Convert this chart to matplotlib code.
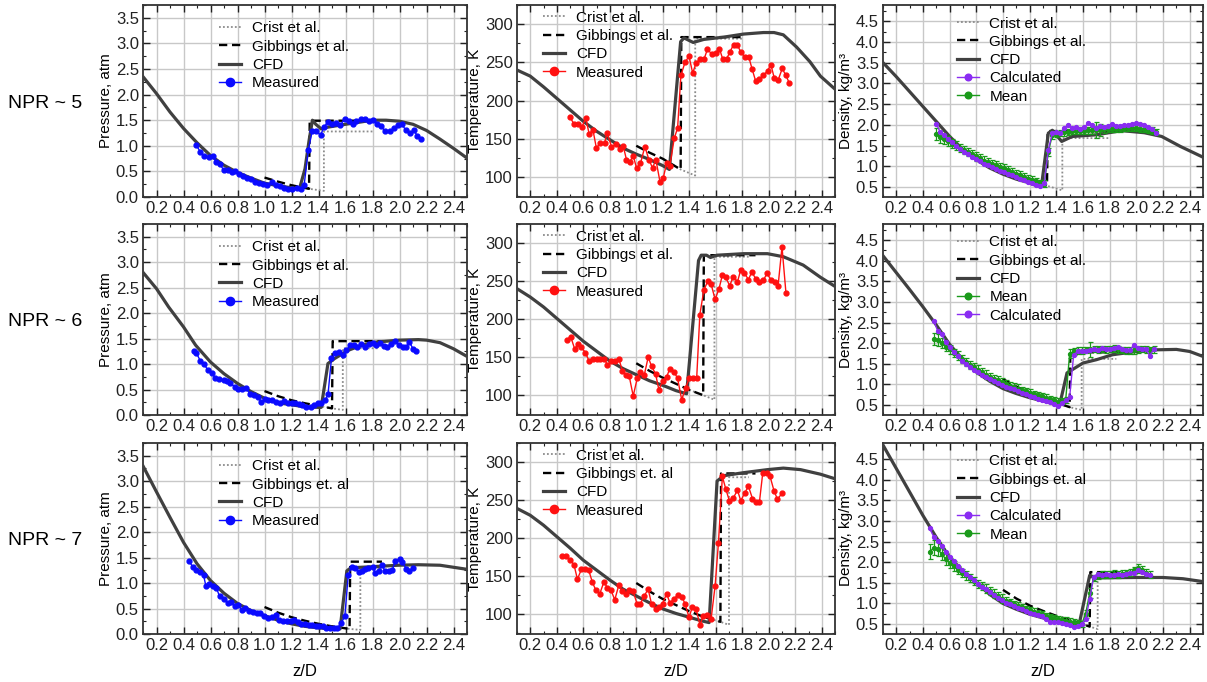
import matplotlib
matplotlib.use('Agg')
import matplotlib.pyplot as plt
from matplotlib.ticker import MultipleLocator
from matplotlib.lines import Line2D

plt.rcParams['font.family'] = ['Liberation Sans', 'DejaVu Sans']

# ---------------- ticks / labels ----------------
x_ticks = [0.2, 0.4, 0.6, 0.8, 1.0, 1.2, 1.4, 1.6, 1.8, 2.0, 2.2, 2.4]
x_tick_labels = ['0.2', '0.4', '0.6', '0.8', '1.0', '1.2', '1.4', '1.6', '1.8', '2.0', '2.2', '2.4']
p_ticks = [0.0, 0.5, 1.0, 1.5, 2.0, 2.5, 3.0, 3.5]
p_tick_labels = ['0.0', '0.5', '1.0', '1.5', '2.0', '2.5', '3.0', '3.5']
t_ticks = [100, 150, 200, 250, 300]
t_tick_labels = ['100', '150', '200', '250', '300']
d_ticks = [0.5, 1.0, 1.5, 2.0, 2.5, 3.0, 3.5, 4.0, 4.5]
d_tick_labels = ['0.5', '1.0', '1.5', '2.0', '2.5', '3.0', '3.5', '4.0', '4.5']
row_labels = ['NPR ~ 5', 'NPR ~ 6', 'NPR ~ 7']
x_label = 'z/D'
p_label = 'Pressure, atm'
t_label = 'Temperature, K'
d_label = 'Density, kg/m³'

# ================= NPR ~ 5 =================
p5_cfd_x = [0.1, 0.2, 0.3, 0.4, 0.5, 0.6, 0.7, 0.8, 0.9, 1.0, 1.1, 1.2, 1.26, 1.30, 1.33, 1.355, 1.38, 1.42, 1.46, 1.6, 1.7, 1.8, 1.9, 2.0, 2.1, 2.2, 2.3, 2.4, 2.5]
p5_cfd_y = [2.35, 2.02, 1.66, 1.34, 1.06, 0.81, 0.62, 0.48, 0.37, 0.27, 0.22, 0.18, 0.17, 0.55, 1.1, 1.5, 1.42, 1.33, 1.36, 1.42, 1.46, 1.5, 1.5, 1.48, 1.42, 1.3, 1.13, 0.95, 0.76]
p5_gib_x = [1.0, 1.1, 1.2, 1.33, 1.335, 1.8]
p5_gib_y = [0.38, 0.30, 0.23, 0.16, 1.49, 1.49]
p5_cri_x = [1.2, 1.33, 1.44, 1.44, 1.8]
p5_cri_y = [0.23, 0.16, 0.12, 1.28, 1.28]
p5_mea_x = [0.495, 0.525, 0.549, 0.586, 0.616, 0.643, 0.667, 0.697, 0.726, 0.758, 0.783, 0.812, 0.839, 0.869, 0.898, 0.930, 0.960, 0.992, 1.021, 1.053, 1.083, 1.115, 1.144, 1.176, 1.206, 1.238, 1.267, 1.294, 1.324, 1.353, 1.384, 1.415, 1.442, 1.471, 1.501, 1.533, 1.562, 1.594, 1.624, 1.656, 1.680, 1.712, 1.742, 1.771, 1.803, 1.836, 1.865, 1.894, 1.926, 1.956, 1.988, 2.018, 2.046, 2.075, 2.104, 2.132, 2.160]
p5_mea_y = [1.01, 0.88, 0.81, 0.78, 0.81, 0.68, 0.65, 0.53, 0.52, 0.49, 0.51, 0.44, 0.41, 0.38, 0.36, 0.29, 0.28, 0.26, 0.24, 0.29, 0.23, 0.21, 0.18, 0.15, 0.16, 0.18, 0.16, 0.24, 0.91, 1.28, 1.28, 1.21, 1.37, 1.47, 1.42, 1.45, 1.40, 1.53, 1.49, 1.42, 1.49, 1.52, 1.52, 1.49, 1.50, 1.43, 1.38, 1.28, 1.28, 1.34, 1.40, 1.43, 1.30, 1.25, 1.30, 1.20, 1.13]

t5_cfd_x = [0.1, 0.2, 0.3, 0.4, 0.5, 0.6, 0.7, 0.8, 0.9, 1.0, 1.1, 1.2, 1.25, 1.335, 1.36, 1.43, 1.51, 1.66, 1.81, 1.96, 2.04, 2.11, 2.21, 2.31, 2.39, 2.5]
t5_cfd_y = [240, 232, 218, 203, 188, 173, 160, 149, 138, 130, 123, 115, 110, 277, 282, 276, 280, 283, 287, 289, 289, 286, 270, 251, 232, 215]
t5_gib_x = [1.0, 1.1, 1.2, 1.335, 1.34, 1.8]
t5_gib_y = [141, 132, 124, 110, 283, 283]
t5_cri_x = [1.2, 1.335, 1.445, 1.445, 1.8]
t5_cri_y = [124, 110, 102, 281, 281]
t5_mea_x = [0.498, 0.528, 0.561, 0.591, 0.619, 0.644, 0.674, 0.699, 0.730, 0.762, 0.780, 0.813, 0.846, 0.876, 0.901, 0.926, 0.952, 0.977, 1.002, 1.032, 1.065, 1.095, 1.123, 1.148, 1.179, 1.204, 1.229, 1.254, 1.287, 1.312, 1.337, 1.368, 1.398, 1.426, 1.451, 1.481, 1.511, 1.537, 1.570, 1.600, 1.628, 1.653, 1.683, 1.708, 1.734, 1.764, 1.789, 1.822, 1.849, 1.875, 1.902, 1.930, 1.960, 1.991, 2.016, 2.041, 2.071, 2.102, 2.129, 2.155]
t5_mea_y = [179, 170, 170, 166, 177, 157, 161, 138, 145, 145, 158, 140, 143, 137, 141, 123, 120, 128, 112, 118, 140, 123, 112, 123, 94, 99, 118, 115, 151, 164, 233, 250, 258, 236, 249, 254, 254, 267, 261, 262, 268, 254, 255, 264, 273, 273, 263, 257, 257, 241, 225, 228, 233, 239, 247, 230, 227, 242, 233, 223]

d5_cfd_x = [0.1, 0.2, 0.3, 0.4, 0.5, 0.6, 0.7, 0.8, 0.9, 1.0, 1.1, 1.2, 1.26, 1.29, 1.34, 1.37, 1.44, 1.52, 1.7, 1.89, 2.06, 2.19, 2.33, 2.5]
d5_cfd_y = [3.5, 3.16, 2.8, 2.44, 2.08, 1.72, 1.4, 1.16, 0.96, 0.81, 0.69, 0.6, 0.52, 0.56, 1.8, 1.87, 1.6, 1.72, 1.76, 1.86, 1.81, 1.72, 1.48, 1.22]
d5_gib_x = [1.0, 1.1, 1.2, 1.33, 1.335, 1.8]
d5_gib_y = [0.96, 0.82, 0.70, 0.53, 1.85, 1.85]
d5_cri_x = [1.2, 1.33, 1.445, 1.445, 1.8]
d5_cri_y = [0.70, 0.53, 0.42, 1.68, 1.68]
d5_grid_x = [0.50, 0.53, 0.56, 0.59, 0.62, 0.65, 0.68, 0.71, 0.74, 0.77, 0.80, 0.83, 0.86, 0.89, 0.92, 0.95, 0.98, 1.01, 1.04, 1.07, 1.10, 1.13, 1.16, 1.19, 1.22, 1.25, 1.28, 1.31, 1.34, 1.37, 1.40, 1.43, 1.46, 1.49, 1.52, 1.55, 1.58, 1.61, 1.64, 1.67, 1.70, 1.73, 1.76, 1.79, 1.82, 1.85, 1.88, 1.91, 1.94, 1.97, 2.00, 2.03, 2.06, 2.09, 2.12, 2.15]
d5_calc_y = [2.02, 1.82, 1.75, 1.65, 1.58, 1.48, 1.42, 1.35, 1.30, 1.22, 1.17, 1.12, 1.06, 1.02, 0.98, 0.93, 0.89, 0.86, 0.82, 0.78, 0.74, 0.70, 0.66, 0.62, 0.60, 0.56, 0.52, 0.60, 1.40, 1.80, 1.82, 1.80, 1.93, 2.00, 1.92, 1.95, 1.90, 1.95, 2.04, 2.00, 1.93, 1.97, 1.95, 1.97, 2.03, 1.98, 1.98, 2.00, 2.00, 2.02, 2.04, 2.03, 2.00, 1.96, 1.90, 1.80]
d5_mean_y = [1.78, 1.70, 1.66, 1.60, 1.55, 1.50, 1.45, 1.40, 1.35, 1.30, 1.24, 1.20, 1.14, 1.10, 1.06, 1.02, 0.98, 0.95, 0.90, 0.86, 0.82, 0.78, 0.74, 0.70, 0.68, 0.64, 0.60, 0.58, 1.35, 1.75, 1.78, 1.80, 1.82, 1.83, 1.85, 1.85, 1.86, 1.86, 1.87, 1.87, 1.88, 1.88, 1.89, 1.90, 1.90, 1.91, 1.91, 1.92, 1.92, 1.92, 1.92, 1.91, 1.90, 1.88, 1.86, 1.83]
d5_mean_err = [0.15, 0.14, 0.12, 0.12, 0.10, 0.10, 0.10, 0.10, 0.10, 0.10, 0.10, 0.10, 0.10, 0.10, 0.10, 0.10, 0.10, 0.10, 0.10, 0.10, 0.10, 0.10, 0.10, 0.08, 0.08, 0.08, 0.08, 0.08, 0.10, 0.10, 0.08, 0.08, 0.08, 0.08, 0.08, 0.08, 0.08, 0.08, 0.08, 0.08, 0.20, 0.15, 0.08, 0.08, 0.08, 0.08, 0.08, 0.08, 0.08, 0.08, 0.08, 0.08, 0.08, 0.08, 0.08, 0.08]

# ================= NPR ~ 6 =================
p6_cfd_x = [0.1, 0.2, 0.29, 0.4, 0.49, 0.6, 0.7, 0.8, 0.9, 1.0, 1.1, 1.2, 1.3, 1.4, 1.42, 1.47, 1.52, 1.62, 1.72, 1.82, 2.0, 2.14, 2.2, 2.3, 2.4, 2.5]
p6_cfd_y = [2.8, 2.48, 2.12, 1.73, 1.37, 1.04, 0.81, 0.62, 0.46, 0.33, 0.24, 0.20, 0.16, 0.15, 0.15, 1.01, 1.11, 1.27, 1.37, 1.43, 1.47, 1.48, 1.47, 1.42, 1.30, 1.15]
p6_gib_x = [1.0, 1.1, 1.2, 1.3, 1.4, 1.5, 1.505, 1.88]
p6_gib_y = [0.47, 0.37, 0.29, 0.23, 0.18, 0.13, 1.45, 1.45]
p6_cri_x = [1.4, 1.5, 1.58, 1.58, 1.85]
p6_cri_y = [0.18, 0.13, 0.10, 1.31, 1.31]
p6_mea_x = [0.475, 0.495, 0.525, 0.549, 0.581, 0.611, 0.635, 0.665, 0.697, 0.721, 0.746, 0.783, 0.807, 0.832, 0.861, 0.893, 0.923, 0.950, 0.975, 1.004, 1.029, 1.058, 1.085, 1.115, 1.144, 1.171, 1.201, 1.225, 1.255, 1.279, 1.311, 1.341, 1.365, 1.397, 1.422, 1.451, 1.471, 1.496, 1.525, 1.550, 1.582, 1.606, 1.636, 1.661, 1.688, 1.717, 1.742, 1.771, 1.803, 1.828, 1.857, 1.884, 1.909, 1.938, 1.968, 1.995, 2.024, 2.049, 2.074, 2.100, 2.125]
p6_mea_y = [1.25, 1.22, 1.06, 1.01, 0.88, 0.83, 0.72, 0.70, 0.68, 0.66, 0.62, 0.55, 0.52, 0.51, 0.53, 0.42, 0.39, 0.36, 0.26, 0.31, 0.30, 0.29, 0.26, 0.23, 0.27, 0.24, 0.24, 0.24, 0.21, 0.20, 0.16, 0.16, 0.20, 0.24, 0.23, 0.29, 0.42, 1.11, 1.21, 1.24, 1.17, 1.27, 1.38, 1.38, 1.34, 1.40, 1.34, 1.39, 1.42, 1.37, 1.42, 1.36, 1.34, 1.40, 1.45, 1.38, 1.34, 1.34, 1.43, 1.30, 1.25]

t6_cfd_x = [0.1, 0.2, 0.3, 0.4, 0.5, 0.6, 0.7, 0.8, 0.9, 1.0, 1.1, 1.2, 1.3, 1.38, 1.47, 1.49, 1.53, 1.56, 1.61, 1.81, 1.99, 2.11, 2.26, 2.39, 2.5]
t6_cfd_y = [240, 229, 216, 201, 186, 171, 158, 145, 135, 127, 119, 113, 106, 102, 277, 284, 284, 281, 284, 286, 286, 282, 271, 255, 243]
t6_gib_x = [1.0, 1.1, 1.2, 1.3, 1.4, 1.505, 1.51, 1.9]
t6_gib_y = [142, 132, 123, 115, 107, 100, 284, 284]
t6_cri_x = [1.4, 1.505, 1.59, 1.59, 1.85]
t6_cri_y = [107, 100, 94, 282, 282]
t6_mea_x = [0.477, 0.505, 0.535, 0.56, 0.586, 0.616, 0.644, 0.674, 0.70, 0.73, 0.757, 0.783, 0.813, 0.838, 0.868, 0.896, 0.921, 0.947, 0.977, 1.007, 1.032, 1.06, 1.09, 1.116, 1.146, 1.171, 1.199, 1.229, 1.254, 1.285, 1.312, 1.343, 1.373, 1.40, 1.426, 1.456, 1.48, 1.51, 1.54, 1.565, 1.595, 1.625, 1.65, 1.675, 1.705, 1.733, 1.764, 1.789, 1.814, 1.847, 1.872, 1.902, 1.93, 1.96, 1.986, 2.016, 2.044, 2.07, 2.10, 2.13]
t6_mea_y = [173, 177, 161, 167, 163, 156, 145, 147, 148, 148, 148, 140, 145, 145, 148, 132, 126, 125, 99, 122, 131, 126, 150, 138, 128, 107, 119, 124, 135, 131, 122, 94, 110, 122, 122, 122, 206, 238, 250, 246, 226, 240, 258, 255, 244, 256, 249, 265, 261, 252, 262, 253, 249, 251, 260, 252, 249, 243, 295, 234]

d6_cfd_x = [0.1, 0.2, 0.3, 0.4, 0.5, 0.6, 0.7, 0.8, 0.9, 1.0, 1.1, 1.2, 1.3, 1.4, 1.43, 1.48, 1.52, 1.6, 1.7, 1.82, 2.0, 2.15, 2.3, 2.4, 2.5]
d6_cfd_y = [4.12, 3.71, 3.3, 2.88, 2.44, 1.97, 1.6, 1.3, 1.08, 0.9, 0.78, 0.68, 0.6, 0.52, 0.58, 1.28, 1.36, 1.52, 1.6, 1.72, 1.8, 1.84, 1.85, 1.8, 1.68]
d6_gib_x = [1.0, 1.1, 1.2, 1.3, 1.4, 1.5, 1.505, 1.9]
d6_gib_y = [1.13, 0.95, 0.80, 0.68, 0.56, 0.45, 1.78, 1.78]
d6_cri_x = [1.4, 1.5, 1.59, 1.59, 1.85]
d6_cri_y = [0.56, 0.45, 0.38, 1.62, 1.62]
d6_grid_x = [0.48, 0.51, 0.54, 0.57, 0.60, 0.63, 0.66, 0.69, 0.72, 0.75, 0.78, 0.81, 0.84, 0.87, 0.90, 0.93, 0.96, 0.99, 1.02, 1.05, 1.08, 1.11, 1.14, 1.17, 1.20, 1.23, 1.26, 1.29, 1.32, 1.35, 1.38, 1.41, 1.44, 1.47, 1.50, 1.53, 1.56, 1.59, 1.62, 1.65, 1.68, 1.71, 1.74, 1.77, 1.80, 1.83, 1.86, 1.89, 1.92, 1.95, 1.98, 2.01, 2.04, 2.07, 2.10, 2.13]
d6_mean_y = [2.10, 2.08, 2.00, 1.92, 1.85, 1.77, 1.70, 1.62, 1.55, 1.48, 1.42, 1.36, 1.30, 1.24, 1.19, 1.14, 1.10, 1.05, 1.01, 0.97, 0.93, 0.90, 0.86, 0.83, 0.80, 0.77, 0.74, 0.71, 0.68, 0.65, 0.62, 0.58, 0.60, 0.62, 1.75, 1.80, 1.82, 1.82, 1.84, 1.85, 1.86, 1.85, 1.86, 1.85, 1.86, 1.87, 1.85, 1.84, 1.83, 1.82, 1.83, 1.85, 1.86, 1.85, 1.84, 1.85]
d6_mean_err = [0.15, 0.15, 0.12, 0.12, 0.10, 0.10, 0.10, 0.10, 0.10, 0.10, 0.10, 0.10, 0.10, 0.10, 0.10, 0.10, 0.10, 0.10, 0.10, 0.10, 0.10, 0.10, 0.08, 0.08, 0.08, 0.08, 0.08, 0.08, 0.08, 0.08, 0.08, 0.08, 0.08, 0.08, 0.10, 0.08, 0.08, 0.08, 0.08, 0.18, 0.08, 0.08, 0.08, 0.08, 0.08, 0.08, 0.08, 0.08, 0.08, 0.08, 0.08, 0.08, 0.08, 0.08, 0.08, 0.08]
d6_calc_y = [2.55, 2.30, 2.22, 2.02, 1.90, 1.78, 1.68, 1.58, 1.50, 1.42, 1.36, 1.30, 1.24, 1.18, 1.13, 1.08, 1.04, 0.99, 0.95, 0.92, 0.88, 0.84, 0.80, 0.76, 0.72, 0.69, 0.65, 0.62, 0.60, 0.57, 0.52, 0.47, 0.55, 0.62, 0.70, 1.72, 1.80, 1.82, 1.82, 1.84, 1.87, 1.84, 1.88, 1.86, 1.87, 1.88, 1.90, 1.85, 1.84, 1.83, 1.95, 1.88, 1.86, 1.87, 1.70, 1.85]

# ================= NPR ~ 7 =================
p7_cfd_x = [0.1, 0.2, 0.3, 0.4, 0.5, 0.6, 0.7, 0.8, 0.9, 1.0, 1.1, 1.2, 1.3, 1.4, 1.5, 1.56, 1.61, 1.64, 1.79, 1.99, 2.14, 2.3, 2.5]
p7_cfd_y = [3.3, 2.79, 2.29, 1.80, 1.38, 1.05, 0.80, 0.60, 0.46, 0.36, 0.27, 0.20, 0.15, 0.12, 0.10, 0.10, 1.24, 1.30, 1.32, 1.35, 1.36, 1.35, 1.27]
p7_gib_x = [1.0, 1.1, 1.2, 1.3, 1.4, 1.5, 1.63, 1.635, 1.87]
p7_gib_y = [0.53, 0.42, 0.33, 0.26, 0.20, 0.15, 0.10, 1.42, 1.42]
p7_cri_x = [1.5, 1.63, 1.71, 1.71, 1.87]
p7_cri_y = [0.15, 0.10, 0.08, 1.29, 1.29]
p7_mea_x = [0.439, 0.468, 0.495, 0.520, 0.549, 0.566, 0.591, 0.616, 0.643, 0.667, 0.697, 0.729, 0.753, 0.783, 0.807, 0.832, 0.857, 0.888, 0.913, 0.943, 0.967, 0.999, 1.029, 1.053, 1.083, 1.110, 1.139, 1.164, 1.193, 1.220, 1.245, 1.274, 1.299, 1.329, 1.353, 1.378, 1.402, 1.435, 1.459, 1.484, 1.513, 1.540, 1.570, 1.595, 1.62, 1.645, 1.67, 1.70, 1.72, 1.745, 1.77, 1.80, 1.82, 1.845, 1.87, 1.895, 1.92, 1.945, 1.97, 2.0, 2.02, 2.05, 2.07, 2.1]
p7_mea_y = [1.44, 1.32, 1.26, 1.21, 1.15, 0.94, 0.99, 0.94, 0.91, 0.74, 0.68, 0.60, 0.63, 0.55, 0.57, 0.47, 0.51, 0.45, 0.43, 0.42, 0.42, 0.35, 0.32, 0.34, 0.38, 0.28, 0.25, 0.25, 0.25, 0.28, 0.23, 0.20, 0.20, 0.18, 0.18, 0.15, 0.15, 0.15, 0.12, 0.12, 0.12, 0.12, 0.22, 0.35, 1.15, 1.32, 1.30, 1.22, 1.24, 1.27, 1.30, 1.31, 1.20, 1.24, 1.35, 1.23, 1.23, 1.25, 1.43, 1.47, 1.42, 1.28, 1.24, 1.30]

t7_cfd_x = [0.1, 0.2, 0.3, 0.4, 0.5, 0.6, 0.7, 0.8, 0.9, 1.0, 1.1, 1.2, 1.3, 1.4, 1.5, 1.55, 1.61, 1.66, 1.81, 1.99, 2.11, 2.24, 2.39, 2.5]
t7_cfd_y = [239, 230, 217, 202, 187, 171, 158, 145, 133, 124, 115, 107, 101, 96, 91, 89, 275, 282, 286, 290, 292, 290, 284, 278]
t7_gib_x = [1.0, 1.1, 1.2, 1.3, 1.4, 1.5, 1.635, 1.64, 1.9]
t7_gib_y = [141, 130, 120, 112, 104, 97, 90, 285, 285]
t7_cri_x = [1.5, 1.635, 1.70, 1.70, 1.85]
t7_cri_y = [97, 90, 86, 280, 280]
t7_mea_x = [0.442, 0.472, 0.503, 0.53, 0.556, 0.586, 0.616, 0.641, 0.669, 0.694, 0.725, 0.755, 0.783, 0.808, 0.838, 0.868, 0.894, 0.921, 0.947, 0.977, 1.007, 1.032, 1.06, 1.09, 1.116, 1.146, 1.174, 1.199, 1.229, 1.254, 1.285, 1.312, 1.343, 1.368, 1.398, 1.423, 1.451, 1.481, 1.507, 1.537, 1.565, 1.595, 1.62, 1.65, 1.675, 1.703, 1.733, 1.764, 1.789, 1.817, 1.847, 1.877, 1.902, 1.93, 1.955, 1.986, 2.01, 2.04, 2.066, 2.10]
t7_mea_y = [177, 176, 171, 165, 146, 159, 159, 158, 142, 132, 127, 142, 135, 132, 119, 138, 130, 127, 132, 130, 113, 114, 124, 133, 113, 107, 109, 114, 127, 115, 120, 125, 123, 114, 96, 109, 107, 86, 98, 99, 94, 137, 193, 281, 265, 249, 253, 263, 249, 259, 268, 252, 248, 248, 286, 285, 281, 262, 251, 259]

d7_cfd_x = [0.1, 0.2, 0.3, 0.4, 0.5, 0.6, 0.7, 0.8, 0.9, 1.0, 1.1, 1.2, 1.3, 1.4, 1.5, 1.57, 1.65, 1.7, 2.0, 2.2, 2.35, 2.5]
d7_cfd_y = [4.84, 4.27, 3.70, 3.13, 2.60, 2.12, 1.78, 1.50, 1.22, 1.00, 0.86, 0.74, 0.65, 0.57, 0.52, 0.48, 1.68, 1.62, 1.63, 1.63, 1.60, 1.53]
d7_gib_x = [1.0, 1.1, 1.2, 1.3, 1.4, 1.5, 1.65, 1.655, 1.9]
d7_gib_y = [1.33, 1.12, 0.95, 0.82, 0.70, 0.60, 0.44, 1.76, 1.76]
d7_cri_x = [1.5, 1.65, 1.71, 1.71, 1.87]
d7_cri_y = [0.60, 0.44, 0.38, 1.62, 1.62]
d7_grid_x = [0.45, 0.48, 0.51, 0.54, 0.57, 0.60, 0.63, 0.66, 0.69, 0.72, 0.75, 0.78, 0.81, 0.84, 0.87, 0.90, 0.93, 0.96, 0.99, 1.02, 1.05, 1.08, 1.11, 1.14, 1.17, 1.20, 1.23, 1.26, 1.29, 1.32, 1.35, 1.38, 1.41, 1.44, 1.47, 1.50, 1.53, 1.56, 1.59, 1.62, 1.65, 1.68, 1.71, 1.74, 1.77, 1.80, 1.83, 1.86, 1.89, 1.92, 1.95, 1.98, 2.01, 2.04, 2.07, 2.10]
d7_calc_y = [2.82, 2.62, 2.52, 2.40, 2.25, 2.12, 2.02, 1.92, 1.82, 1.72, 1.64, 1.56, 1.48, 1.41, 1.34, 1.27, 1.20, 1.14, 1.08, 1.02, 0.98, 0.94, 0.90, 0.86, 0.82, 0.78, 0.75, 0.72, 0.69, 0.62, 0.55, 0.55, 0.54, 0.52, 0.50, 0.48, 0.43, 0.45, 0.50, 0.62, 1.10, 1.65, 1.72, 1.70, 1.72, 1.70, 1.70, 1.72, 1.70, 1.72, 1.73, 1.75, 1.80, 1.76, 1.72, 1.70]
d7_mean_y = [2.25, 2.35, 2.32, 2.20, 2.08, 1.98, 1.90, 1.82, 1.74, 1.68, 1.62, 1.55, 1.48, 1.42, 1.36, 1.30, 1.24, 1.18, 1.12, 1.07, 1.03, 0.99, 0.95, 0.91, 0.87, 0.84, 0.80, 0.77, 0.74, 0.70, 0.67, 0.64, 0.62, 0.60, 0.58, 0.56, 0.54, 0.52, 0.50, 0.75, 1.25, 1.62, 1.68, 1.70, 1.70, 1.70, 1.72, 1.70, 1.72, 1.74, 1.75, 1.80, 1.85, 1.82, 1.75, 1.70]
d7_mean_err = [0.18, 0.18, 0.16, 0.15, 0.14, 0.12, 0.12, 0.10, 0.10, 0.10, 0.10, 0.10, 0.10, 0.10, 0.10, 0.10, 0.10, 0.10, 0.10, 0.08, 0.08, 0.08, 0.08, 0.08, 0.08, 0.08, 0.08, 0.08, 0.08, 0.08, 0.08, 0.08, 0.08, 0.08, 0.08, 0.08, 0.08, 0.08, 0.08, 0.10, 0.12, 0.08, 0.08, 0.08, 0.08, 0.08, 0.08, 0.08, 0.08, 0.08, 0.08, 0.08, 0.10, 0.08, 0.08, 0.08]

# ---------------- styles ----------------
C_CFD = '#404040'
C_GIB = '#000000'
C_CRI = '#8c8c8c'
C_P = '#0a0aff'
C_T = '#ff1010'
C_CALC = '#8a2cf2'
C_MEAN = '#1a9a1a'

W, H = 1207, 682
col_px = [(143, 467), (517, 835), (883, 1203)]
row_px = [(5, 197), (224, 415), (443, 634)]

fig = plt.figure(figsize=(W / 100, H / 100), dpi=100)


def make_ax(r, c):
    l, rr = col_px[c]
    t, b = row_px[r]
    return fig.add_axes([l / W, 1 - b / H, (rr - l) / W, (b - t) / H])


def style(ax, ylim, yt, ytl, yminor, ylabel, lpad, xlabel):
    ax.set_xlim(0.1, 2.5)
    ax.set_ylim(*ylim)
    ax.set_xticks(x_ticks)
    ax.set_xticklabels(x_tick_labels)
    ax.set_yticks(yt)
    ax.set_yticklabels(ytl)
    ax.xaxis.set_minor_locator(MultipleLocator(0.1))
    ax.yaxis.set_minor_locator(MultipleLocator(yminor))
    ax.tick_params(which='both', direction='in', top=True, right=True,
                   labelsize=12, pad=3, colors='#222222')
    ax.tick_params(which='major', length=5, width=1)
    ax.tick_params(which='minor', length=2.5, width=0.8)
    ax.grid(True, which='major', color='#c8c8c8', lw=1)
    ax.set_axisbelow(True)
    for s in ax.spines.values():
        s.set_linewidth(1.3)
        s.set_color('#333333')
    ax.set_ylabel(ylabel, fontsize=11, labelpad=lpad)
    if xlabel:
        ax.set_xlabel(x_label, fontsize=12, labelpad=8)


def legend(ax, handles, labels, bx, by):
    ax.legend(handles, labels, loc='upper left', bbox_to_anchor=(bx, by),
              frameon=False, fontsize=11, handlelength=1.45, handletextpad=0.7,
              labelspacing=0.28, borderpad=0, borderaxespad=0, markerscale=1.7)


press = [(p5_cfd_x, p5_cfd_y, p5_gib_x, p5_gib_y, p5_cri_x, p5_cri_y, p5_mea_x, p5_mea_y),
         (p6_cfd_x, p6_cfd_y, p6_gib_x, p6_gib_y, p6_cri_x, p6_cri_y, p6_mea_x, p6_mea_y),
         (p7_cfd_x, p7_cfd_y, p7_gib_x, p7_gib_y, p7_cri_x, p7_cri_y, p7_mea_x, p7_mea_y)]
temps = [(t5_cfd_x, t5_cfd_y, t5_gib_x, t5_gib_y, t5_cri_x, t5_cri_y, t5_mea_x, t5_mea_y),
         (t6_cfd_x, t6_cfd_y, t6_gib_x, t6_gib_y, t6_cri_x, t6_cri_y, t6_mea_x, t6_mea_y),
         (t7_cfd_x, t7_cfd_y, t7_gib_x, t7_gib_y, t7_cri_x, t7_cri_y, t7_mea_x, t7_mea_y)]
dens = [(d5_cfd_x, d5_cfd_y, d5_gib_x, d5_gib_y, d5_cri_x, d5_cri_y, d5_grid_x, d5_calc_y, d5_mean_y, d5_mean_err),
        (d6_cfd_x, d6_cfd_y, d6_gib_x, d6_gib_y, d6_cri_x, d6_cri_y, d6_grid_x, d6_calc_y, d6_mean_y, d6_mean_err),
        (d7_cfd_x, d7_cfd_y, d7_gib_x, d7_gib_y, d7_cri_x, d7_cri_y, d7_grid_x, d7_calc_y, d7_mean_y, d7_mean_err)]
gib_names = ['Gibbings et al.', 'Gibbings et al.', 'Gibbings et. al']


def pair(x, y):
    n = min(len(x), len(y))
    return list(x)[:n], list(y)[:n]


def base_lines(ax, cx, cy, gx, gy, rx, ry):
    ax.plot(*pair(rx, ry), color=C_CRI, lw=1.3, ls=(0, (1, 1.2)), zorder=2)
    ax.plot(*pair(gx, gy), color=C_GIB, lw=1.7, ls=(0, (3.5, 2)), zorder=3)
    ax.plot(*pair(cx, cy), color=C_CFD, lw=2.3, zorder=4)


h_cri = Line2D([], [], color=C_CRI, lw=1.3, ls=(0, (1, 1.2)))
h_gib = Line2D([], [], color=C_GIB, lw=1.7, ls=(0, (3.5, 2)))
h_cfd = Line2D([], [], color=C_CFD, lw=2.3)
h_p = Line2D([], [], color=C_P, lw=1, marker='o', ms=3.5)
h_t = Line2D([], [], color=C_T, lw=1, marker='o', ms=3.5)
h_calc = Line2D([], [], color=C_CALC, lw=1, marker='o', ms=2.8)
h_mean = Line2D([], [], color=C_MEAN, lw=1, marker='o', ms=2.8)

for r in range(3):
    xl = (r == 2)
    # ---- pressure ----
    ax = make_ax(r, 0)
    cx, cy, gx, gy, rx, ry, mx, my = press[r]
    base_lines(ax, cx, cy, gx, gy, rx, ry)
    ax.plot(*pair(mx, my), color=C_P, lw=1, marker='o', ms=3.5, zorder=5)
    style(ax, (0, 3.75), p_ticks, p_tick_labels, 0.25, p_label, 2, xl)
    legend(ax, [h_cri, h_gib, h_cfd, h_p],
           ['Crist et al.', gib_names[r], 'CFD', 'Measured'], 0.235, 0.915)

    # ---- temperature ----
    ax = make_ax(r, 1)
    cx, cy, gx, gy, rx, ry, mx, my = temps[r]
    base_lines(ax, cx, cy, gx, gy, rx, ry)
    ax.plot(*pair(mx, my), color=C_T, lw=1, marker='o', ms=3.5, zorder=5)
    style(ax, (74, 325), t_ticks, t_tick_labels, 25, t_label, 2, xl)
    legend(ax, [h_cri, h_gib, h_cfd, h_t],
           ['Crist et al.', gib_names[r], 'CFD', 'Measured'], 0.082, 0.97)

    # ---- density ----
    ax = make_ax(r, 2)
    cx, cy, gx, gy, rx, ry, gxx, calc_y, mean_y, mean_e = dens[r]
    base_lines(ax, cx, cy, gx, gy, rx, ry)
    n = min(len(gxx), len(mean_y), len(mean_e))
    ax.errorbar(gxx[:n], mean_y[:n], yerr=mean_e[:n], color=C_MEAN, lw=1,
                marker='o', ms=2.8, elinewidth=0.9, capsize=1.8, capthick=0.9, zorder=5)
    ax.plot(*pair(gxx, calc_y), color=C_CALC, lw=1, marker='o', ms=2.8, zorder=6)
    style(ax, (0.26, 4.89), d_ticks, d_tick_labels, 0.25, d_label, 2, xl)
    if r == 1:
        hs, ls = [h_cri, h_gib, h_cfd, h_mean, h_calc], ['Crist et al.', gib_names[r], 'CFD', 'Mean', 'Calculated']
    else:
        hs, ls = [h_cri, h_gib, h_cfd, h_calc, h_mean], ['Crist et al.', gib_names[r], 'CFD', 'Calculated', 'Mean']
    legend(ax, hs, ls, 0.23, 0.94)

for r, (t, b) in enumerate(row_px):
    yc = (t + b) / 2 + 2
    fig.text(8 / W, 1 - yc / H, row_labels[r], fontsize=14, va='center', ha='left')

fig.savefig('out.png', dpi=100)
